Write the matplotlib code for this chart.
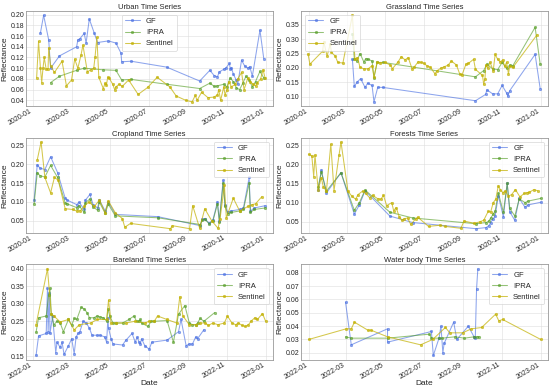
import numpy as np
import pandas as pd
import matplotlib
matplotlib.use("Agg")
import matplotlib.pyplot as plt
import matplotlib.dates as mdates
from matplotlib.ticker import MultipleLocator

# day offsets from Jan 1 of the panel year, reflectance values
urban_gf_days = [11, 16, 24, 27, 41, 68, 70, 73, 80, 83, 88, 96, 101, 118, 130, 138, 139, 154, 210, 262, 278, 285, 290, 293, 300, 303, 309, 310, 312, 315, 320, 322, 328, 333, 338, 341, 345, 357, 363]
urban_gf = [0.166, 0.199, 0.153, 0.100, 0.123, 0.140, 0.153, 0.155, 0.165, 0.147, 0.192, 0.165, 0.148, 0.151, 0.147, 0.128, 0.112, 0.113, 0.102, 0.076, 0.096, 0.086, 0.084, 0.093, 0.098, 0.100, 0.109, 0.099, 0.101, 0.089, 0.077, 0.070, 0.115, 0.104, 0.100, 0.103, 0.085, 0.171, 0.118]
urban_ipra_days = [27, 41, 68, 80, 110, 130, 139, 154, 210, 262, 278, 285, 290, 300, 305, 310, 315, 320, 325, 330, 335, 340, 345, 350, 357, 363]
urban_ipra = [0.073, 0.085, 0.096, 0.100, 0.097, 0.096, 0.078, 0.079, 0.070, 0.062, 0.072, 0.066, 0.067, 0.070, 0.065, 0.082, 0.075, 0.063, 0.060, 0.072, 0.085, 0.078, 0.065, 0.075, 0.094, 0.082]
urban_sen_days = [5, 8, 11, 13, 15, 17, 20, 23, 24, 27, 33, 45, 52, 60, 65, 70, 75, 78, 85, 90, 95, 97, 100, 103, 110, 113, 115, 117, 119, 125, 128, 130, 135, 140, 150, 165, 180, 195, 215, 225, 240, 250, 255, 258, 265, 275, 285, 290, 292, 295, 300, 302, 305, 308, 312, 318, 322, 328, 332, 338, 342, 346, 350, 353, 358, 362, 365]
urban_sen = [0.082, 0.150, 0.100, 0.073, 0.100, 0.120, 0.098, 0.099, 0.138, 0.105, 0.092, 0.113, 0.067, 0.078, 0.117, 0.100, 0.125, 0.143, 0.093, 0.097, 0.100, 0.120, 0.158, 0.083, 0.062, 0.072, 0.068, 0.083, 0.082, 0.070, 0.060, 0.065, 0.070, 0.066, 0.078, 0.051, 0.064, 0.083, 0.065, 0.048, 0.040, 0.037, 0.049, 0.040, 0.055, 0.045, 0.046, 0.050, 0.060, 0.040, 0.065, 0.050, 0.060, 0.075, 0.065, 0.070, 0.080, 0.092, 0.060, 0.082, 0.075, 0.070, 0.067, 0.073, 0.080, 0.097, 0.082]

grass_gf_days = [69, 72, 77, 82, 89, 93, 100, 103, 109, 118, 263, 279, 281, 290, 298, 305, 312, 314, 317, 357, 365]
grass_gf = [0.230, 0.136, 0.152, 0.163, 0.132, 0.147, 0.139, 0.082, 0.133, 0.132, 0.086, 0.108, 0.124, 0.110, 0.110, 0.139, 0.113, 0.102, 0.121, 0.247, 0.128]
grass_ipra_days = [69, 72, 76, 81, 87, 90, 94, 100, 103, 108, 118, 263, 276, 281, 290, 298, 305, 312, 317, 322, 357, 365]
grass_ipra = [0.319, 0.232, 0.224, 0.250, 0.221, 0.232, 0.230, 0.224, 0.166, 0.219, 0.219, 0.169, 0.191, 0.213, 0.197, 0.194, 0.219, 0.199, 0.210, 0.208, 0.341, 0.213]
grass_sen_days = [-1, 2, 22, 24, 29, 34, 36, 42, 46, 54, 69, 73, 77, 81, 87, 94, 100, 103, 108, 113, 120, 129, 132, 141, 146, 152, 157, 163, 166, 173, 177, 182, 186, 192, 199, 203, 209, 214, 220, 225, 233, 238, 242, 248, 252, 260, 263, 274, 276, 278, 279, 282, 286, 291, 294, 298, 302, 306, 309, 312, 315, 317, 322, 360]
grass_sen = [0.249, 0.213, 0.258, 0.291, 0.241, 0.282, 0.254, 0.241, 0.219, 0.217, 0.383, 0.230, 0.236, 0.202, 0.197, 0.197, 0.208, 0.169, 0.219, 0.217, 0.219, 0.210, 0.197, 0.221, 0.239, 0.228, 0.236, 0.197, 0.202, 0.222, 0.219, 0.216, 0.208, 0.202, 0.180, 0.191, 0.200, 0.204, 0.210, 0.224, 0.210, 0.180, 0.177, 0.213, 0.216, 0.230, 0.195, 0.174, 0.143, 0.163, 0.210, 0.200, 0.219, 0.191, 0.247, 0.230, 0.221, 0.228, 0.205, 0.219, 0.180, 0.206, 0.202, 0.315]

crop_gf_days = [1, 6, 10, 18, 27, 38, 50, 53, 68, 72, 80, 82, 89, 94, 101, 104, 113, 118, 129, 196, 263, 266, 270, 277, 283, 290, 293, 299, 302, 306, 311, 325, 331, 340, 342, 348, 365]
crop_gf = [0.105, 0.199, 0.190, 0.186, 0.220, 0.178, 0.110, 0.105, 0.093, 0.099, 0.080, 0.105, 0.120, 0.093, 0.084, 0.105, 0.076, 0.100, 0.067, 0.061, 0.037, 0.054, 0.056, 0.043, 0.053, 0.100, 0.050, 0.158, 0.093, 0.073, 0.076, 0.080, 0.084, 0.165, 0.076, 0.084, 0.090]
crop_ipra_days = [1, 6, 10, 18, 27, 38, 50, 53, 68, 72, 80, 82, 89, 94, 101, 104, 113, 118, 129, 196, 263, 266, 270, 277, 283, 290, 293, 299, 302, 306, 311, 325, 331, 340, 342, 348, 365]
crop_ipra = [0.095, 0.178, 0.170, 0.166, 0.197, 0.165, 0.097, 0.095, 0.085, 0.090, 0.072, 0.098, 0.108, 0.087, 0.078, 0.099, 0.070, 0.094, 0.063, 0.058, 0.040, 0.052, 0.054, 0.042, 0.050, 0.095, 0.048, 0.150, 0.088, 0.069, 0.072, 0.076, 0.080, 0.150, 0.072, 0.080, 0.084]
crop_sen_days = [6, 12, 18, 27, 33, 39, 50, 62, 68, 74, 80, 87, 96, 104, 113, 118, 129, 140, 144, 153, 216, 219, 246, 251, 262, 270, 281, 291, 294, 301, 304, 315, 325, 338, 345, 350, 360]
crop_sen = [0.212, 0.259, 0.165, 0.124, 0.165, 0.158, 0.082, 0.080, 0.076, 0.077, 0.088, 0.100, 0.088, 0.105, 0.071, 0.103, 0.071, 0.056, 0.033, 0.043, 0.029, 0.037, 0.029, 0.090, 0.030, 0.082, 0.050, 0.030, 0.054, 0.144, 0.058, 0.110, 0.076, 0.088, 0.093, 0.095, 0.114]

forest_gf_days = [15, 20, 28, 51, 72, 80, 89, 128, 164, 264, 280, 284, 287, 291, 294, 299, 307, 313, 317, 325, 332, 341, 346, 366]
forest_gf = [0.132, 0.185, 0.125, 0.178, 0.070, 0.094, 0.131, 0.065, 0.048, 0.032, 0.035, 0.040, 0.048, 0.058, 0.065, 0.118, 0.063, 0.150, 0.076, 0.054, 0.111, 0.088, 0.094, 0.101]
forest_ipra_days = [15, 20, 28, 51, 72, 80, 89, 128, 164, 264, 280, 284, 287, 291, 294, 299, 307, 313, 317, 325, 332, 341, 346, 366]
forest_ipra = [0.140, 0.180, 0.130, 0.178, 0.080, 0.100, 0.133, 0.075, 0.060, 0.045, 0.048, 0.052, 0.060, 0.070, 0.078, 0.125, 0.075, 0.150, 0.085, 0.065, 0.110, 0.100, 0.104, 0.111]
forest_sen_days = [0, 5, 8, 10, 15, 20, 23, 28, 35, 40, 48, 51, 62, 68, 74, 78, 85, 90, 96, 101, 109, 114, 118, 123, 131, 134, 138, 143, 147, 151, 156, 161, 169, 172, 189, 207, 215, 240, 245, 261, 270, 276, 283, 287, 291, 295, 299, 302, 306, 310, 315, 320, 326, 333, 340, 344, 348, 355, 361]
forest_sen = [0.226, 0.222, 0.168, 0.224, 0.134, 0.165, 0.142, 0.130, 0.252, 0.131, 0.225, 0.258, 0.130, 0.117, 0.109, 0.121, 0.130, 0.124, 0.113, 0.119, 0.110, 0.109, 0.119, 0.092, 0.100, 0.079, 0.087, 0.062, 0.054, 0.058, 0.060, 0.043, 0.058, 0.062, 0.038, 0.041, 0.038, 0.033, 0.052, 0.046, 0.050, 0.054, 0.077, 0.076, 0.100, 0.109, 0.144, 0.134, 0.126, 0.130, 0.117, 0.121, 0.134, 0.115, 0.124, 0.126, 0.127, 0.134, 0.131]

bare_gf_days = [4, 8, 20, 22, 23, 25, 26, 30, 35, 37, 42, 45, 48, 55, 60, 64, 67, 70, 73, 78, 83, 88, 92, 100, 105, 112, 115, 117, 118, 122, 125, 140, 145, 155, 160, 163, 166, 168, 170, 175, 182, 186, 210, 228, 232, 240, 245, 250, 255, 258, 268]
bare_gf = [0.152, 0.208, 0.215, 0.345, 0.220, 0.330, 0.215, 0.265, 0.160, 0.190, 0.175, 0.190, 0.155, 0.180, 0.200, 0.157, 0.205, 0.215, 0.220, 0.250, 0.245, 0.230, 0.210, 0.210, 0.210, 0.205, 0.190, 0.260, 0.230, 0.200, 0.185, 0.182, 0.195, 0.215, 0.190, 0.205, 0.190, 0.185, 0.200, 0.180, 0.170, 0.190, 0.196, 0.220, 0.255, 0.180, 0.185, 0.185, 0.205, 0.200, 0.226]
bare_ipra_days = [4, 8, 20, 24, 26, 28, 32, 37, 42, 47, 55, 60, 64, 68, 75, 80, 84, 88, 95, 100, 105, 110, 115, 117, 120, 125, 130, 140, 150, 158, 162, 166, 168, 170, 180, 185, 190, 210, 220, 228, 238, 245, 250, 255, 258, 262, 268, 285]
bare_ipra = [0.218, 0.260, 0.265, 0.325, 0.345, 0.270, 0.240, 0.250, 0.245, 0.220, 0.255, 0.238, 0.258, 0.255, 0.290, 0.285, 0.275, 0.260, 0.260, 0.265, 0.262, 0.260, 0.250, 0.285, 0.265, 0.245, 0.245, 0.245, 0.255, 0.265, 0.250, 0.250, 0.255, 0.245, 0.235, 0.250, 0.250, 0.252, 0.190, 0.270, 0.295, 0.245, 0.240, 0.240, 0.245, 0.258, 0.250, 0.275]
bare_sen_days = [4, 22, 28, 32, 42, 55, 64, 72, 90, 100, 115, 118, 122, 130, 145, 160, 175, 182, 190, 195, 210, 225, 230, 235, 245, 255, 262, 270, 275, 282, 290, 300, 305, 312, 318, 322, 328, 333, 338, 342, 348, 352, 360, 365]
bare_sen = [0.240, 0.400, 0.270, 0.265, 0.248, 0.255, 0.225, 0.240, 0.245, 0.255, 0.255, 0.310, 0.245, 0.245, 0.245, 0.250, 0.245, 0.250, 0.250, 0.265, 0.255, 0.245, 0.320, 0.265, 0.240, 0.240, 0.245, 0.245, 0.238, 0.245, 0.240, 0.245, 0.265, 0.245, 0.240, 0.245, 0.238, 0.235, 0.240, 0.250, 0.260, 0.255, 0.272, 0.250]

water_gf_days = [58, 67, 124, 124, 193, 196, 205, 208, 211, 213, 228, 233, 251, 260, 262, 264, 266]
water_gf = [0.058, 0.026, 0.038, 0.028, 0.036, 0.018, 0.031, 0.040, 0.020, 0.027, 0.043, 0.030, 0.040, 0.032, 0.031, 0.068, 0.083]
water_ipra_days = [58, 67, 124, 190, 193, 205, 210, 230, 245, 260, 265, 268]
water_ipra = [0.032, 0.031, 0.031, 0.034, 0.031, 0.031, 0.031, 0.032, 0.031, 0.032, 0.032, 0.032]
water_sen_days = [0, 59, 67, 72, 93, 98, 124, 176, 195, 215, 222, 242, 256, 272, 294, 299, 305, 365]
water_sen = [0.030, 0.038, 0.038, 0.043, 0.037, 0.037, 0.032, 0.026, 0.030, 0.039, 0.035, 0.035, 0.038, 0.039, 0.049, 0.044, 0.045, 0.030]

panels = [
    ("Urban Time Series", 2020, urban_gf_days, urban_gf, urban_ipra_days, urban_ipra, urban_sen_days, urban_sen, "upper center", 0.02),
    ("Grassland Time Series", 2020, grass_gf_days, grass_gf, grass_ipra_days, grass_ipra, grass_sen_days, grass_sen, "upper left", 0.05),
    ("Cropland Time Series", 2020, crop_gf_days, crop_gf, crop_ipra_days, crop_ipra, crop_sen_days, crop_sen, "upper right", 0.05),
    ("Forests Time Series", 2020, forest_gf_days, forest_gf, forest_ipra_days, forest_ipra, forest_sen_days, forest_sen, "upper right", 0.05),
    ("Bareland Time Series", 2022, bare_gf_days, bare_gf, bare_ipra_days, bare_ipra, bare_sen_days, bare_sen, "upper right", 0.05),
    ("Water body Time Series", 2022, water_gf_days, water_gf, water_ipra_days, water_ipra, water_sen_days, water_sen, "upper right", 0.01),
]

plt.style.use("seaborn-v0_8-whitegrid")
fig, axes = plt.subplots(3, 2, figsize=(11, 7.78), dpi=50)
fig.subplots_adjust(left=0.047, right=0.996, top=0.972, bottom=0.075, wspace=0.115, hspace=0.33)

def to_dates(year, days):
    return pd.Timestamp(f"{year}-01-01") + pd.to_timedelta(days, unit="D")

for ax, (title, year, gd, gv, idd, iv, sd, sv, loc, ystep) in zip(axes.flat, panels):
    ax.plot(to_dates(year, gd), gv, color="royalblue", marker="o", markersize=3.5, lw=1.5, alpha=0.6, label="GF")
    ax.plot(to_dates(year, idd), iv, color="#4f9a1e", marker="o", markersize=3.5, lw=1.5, alpha=0.6, label="IPRA")
    ax.plot(to_dates(year, sd), sv, color="#c2b000", marker="o", markersize=3.5, lw=1.5, alpha=0.7, label="Sentinel")
    ax.set_title(title, fontsize=11, pad=3)
    ax.set_ylabel("Reflectance", fontsize=12, labelpad=3)
    ax.yaxis.set_major_locator(MultipleLocator(ystep))
    ax.xaxis.set_major_locator(mdates.MonthLocator(bymonth=[1, 3, 5, 7, 9, 11]))
    ax.xaxis.set_major_formatter(mdates.DateFormatter("%Y-%m"))
    ax.set_xlim(pd.Timestamp(f"{year - 1}-12-20"), pd.Timestamp(f"{year + 1}-01-12"))
    ax.tick_params(axis="both", labelsize=10, pad=2)
    for lbl in ax.get_xticklabels():
        lbl.set_rotation(30)
        lbl.set_ha("right")
    for sp in ax.spines.values():
        sp.set_visible(True)
        sp.set_color("#999999")
        sp.set_linewidth(1.2)
    ax.grid(True, color="#dddddd", lw=0.8)
    ax.legend(loc=loc, fontsize=11, frameon=True)

axes[2, 0].set_xlabel("Date", fontsize=12, labelpad=0)
axes[2, 1].set_xlabel("Date", fontsize=12, labelpad=0)

fig.savefig("out.png", dpi=50)
